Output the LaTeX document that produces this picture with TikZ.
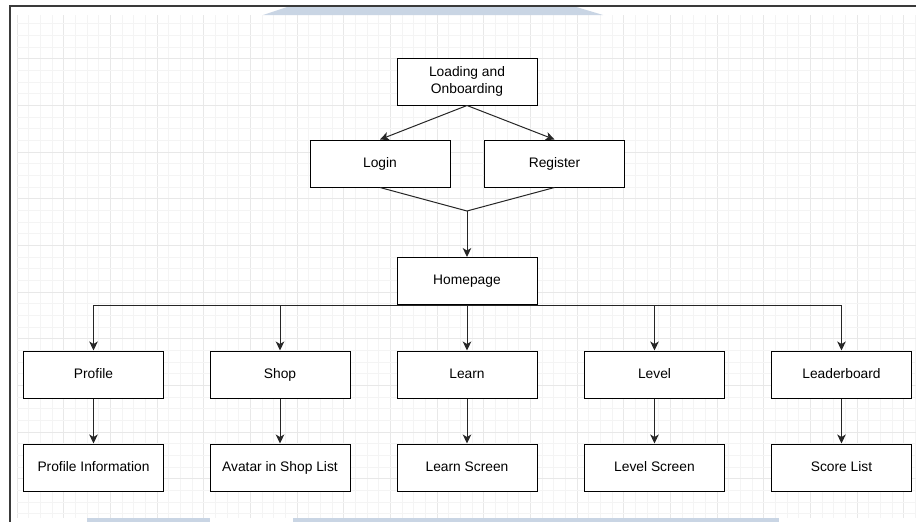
\documentclass[tikz,border=0pt]{standalone}
\usepackage{fontspec}
\setmainfont{Liberation Sans}
\usetikzlibrary{arrows.meta}
\definecolor{gridminor}{HTML}{F4F4F4}
\definecolor{gridmajor}{HTML}{E8E8E8}
\definecolor{bandblue}{HTML}{C9D5E4}
\definecolor{framegray}{HTML}{3A3A3A}
\begin{document}
\begin{tikzpicture}[x=1pt,y=-1pt,
  screen/.style={draw=black,line width=1pt,fill=white,minimum width=140pt,
    minimum height=47pt,inner sep=0pt,align=center,
    font=\fontsize{13.8}{17}\selectfont},
  oneline/.style={screen,text height=10pt,text depth=3pt},
  link/.style={draw=black!85,line width=1pt},
  arrowlink/.style={link,-{Stealth[length=9pt,width=8.5pt,inset=2.5pt]}}]
\useasboundingbox (0,0) rectangle (916,522);
\fill[white] (0,0) rectangle (916,522);

% background grid
\foreach \k in {0,...,77}{
  \pgfmathsetmacro{\gx}{17+11.6667*\k}
  \pgfmathtruncatemacro{\isMajor}{mod(\k,4)==0 ? 1 : 0}
  \ifnum\isMajor=1
    \draw[gridmajor,line width=0.8pt] (\gx,15) -- (\gx,518);
  \else
    \draw[gridminor,line width=0.7pt] (\gx,15) -- (\gx,518);
  \fi
}
\foreach \k in {1,...,43}{
  \pgfmathsetmacro{\gy}{12+11.6667*\k}
  \pgfmathtruncatemacro{\isMajor}{mod(\k,4)==0 ? 1 : 0}
  \ifnum\isMajor=1
    \draw[gridmajor,line width=0.8pt] (17,\gy) -- (916,\gy);
  \else
    \draw[gridminor,line width=0.7pt] (17,\gy) -- (916,\gy);
  \fi
}

% pale bands at the top and bottom edges
\fill[bandblue] (263,15) -- (290,6) -- (573,6) -- (603,15) -- cycle;
\fill[bandblue] (87,518) rectangle (210,522);
\fill[bandblue] (293,518) rectangle (779,522);

% frame
\draw[framegray,line width=1.3pt] (916,6) -- (10,6) -- (10,522);

% screens
\node[screen] (load) at (467,81.5) {Loading and\\Onboarding};
\node[oneline] (login) at (380,163.5) {Login};
\node[oneline] (reg) at (554.5,163.5) {Register};
\node[oneline] (home) at (467,281) {Homepage};

\node[oneline] (profile) at (93.5,374.5) {Profile};
\node[oneline] (shop) at (280,374.5) {Shop};
\node[oneline] (learn) at (467,374.5) {Learn};
\node[oneline] (level) at (654.5,374.5) {Level};
\node[oneline] (board) at (841.5,374.5) {Leaderboard};

\node[oneline] (profinfo) at (93.5,467.5) {Profile Information};
\node[oneline] (avatar) at (280,467.5) {Avatar in Shop List};
\node[oneline] (lscreen) at (467,467.5) {Learn Screen};
\node[oneline] (lvscreen) at (654.5,467.5) {Level Screen};
\node[oneline] (score) at (841.5,467.5) {Score List};

\coordinate (join) at (467,211);

% connectors
\draw[arrowlink] (load.south) -- (login.north);
\draw[arrowlink] (load.south) -- (reg.north);
\draw[link] (login.south) -- (join) -- (reg.south);
\draw[arrowlink] (join) -- (home.north);

\draw[arrowlink] (home.south) -| (profile.north);
\draw[arrowlink] (home.south) -| (shop.north);
\draw[arrowlink] (home.south) -- (learn.north);
\draw[arrowlink] (home.south) -| (level.north);
\draw[arrowlink] (home.south) -| (board.north);

\draw[arrowlink] (profile) -- (profinfo);
\draw[arrowlink] (shop) -- (avatar);
\draw[arrowlink] (learn) -- (lscreen);
\draw[arrowlink] (level) -- (lvscreen);
\draw[arrowlink] (board) -- (score);
\end{tikzpicture}
\end{document}
